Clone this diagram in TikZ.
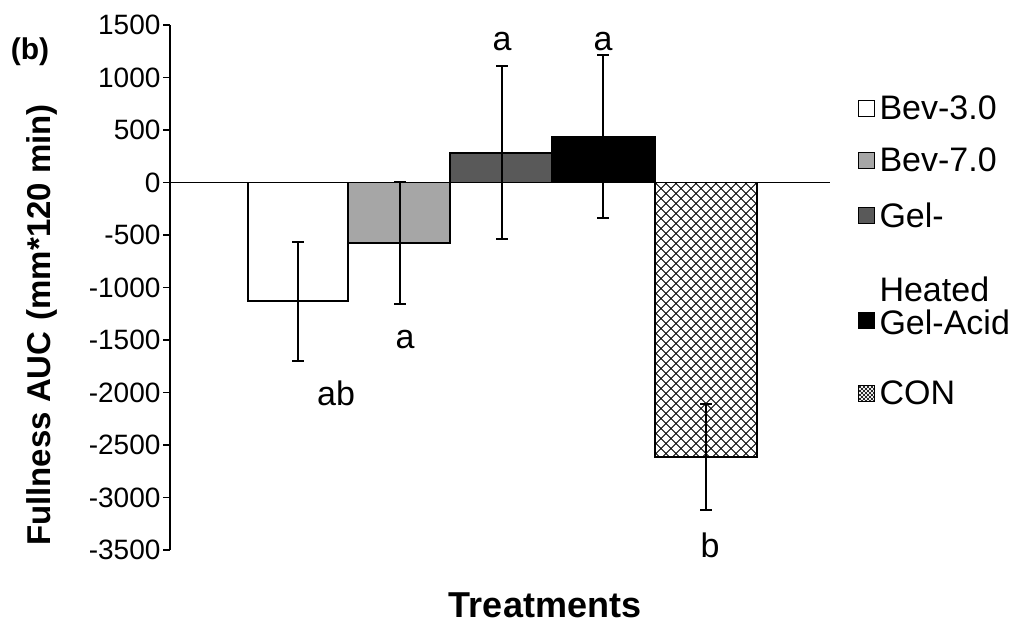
\documentclass[tikz,border=0pt]{standalone}
\usepackage{fontspec}
\setmainfont{Liberation Sans}
\begin{document}
\begin{tikzpicture}[x=1pt,y=-1pt,
  bar/.style={draw=black,line width=1.2pt},
  err/.style={line width=1.2pt},
  tick/.style={font=\fontsize{28}{28}\selectfont,anchor=east},
  lbl/.style={font=\fontsize{34}{34}\selectfont},
  leg/.style={font=\fontsize{34}{34}\selectfont,anchor=west}]
\useasboundingbox (0,0) rectangle (1024,632);
% bars
\path[bar,fill=white] (248,182.5) rectangle (348,301);
\path[bar,fill=black!35] (348,182.5) rectangle (450,243);
\path[bar,fill=black!65] (450,182.5) rectangle (552,153);
\path[bar,fill=black] (552,182.5) rectangle (655,137);
\begin{scope}
\clip (655,182.5) rectangle (757,457);
\foreach \i in {-300,-290,...,300}{
  \draw[line width=0.8pt] (655+\i,182.5) -- ++(300,300);
  \draw[line width=0.8pt] (757+\i,182.5) -- ++(-300,300);}
\end{scope}
\draw[bar] (655,182.5) rectangle (757,457);
% axes
\draw[line width=1.2pt] (170,25) -- (170,550);
\foreach \v in {1500,1000,...,-3500}{
  \draw[line width=1.2pt] (163,{182.5-0.105*\v}) -- (170,{182.5-0.105*\v});
  \node[tick] at (164,{182.5-0.105*\v}) {\v};}
\draw[line width=1.2pt] (170,182.5) -- (830,182.5);
% error bars
\foreach \c/\a/\b in {298/242/361,400/182/304,502/66/239,603/55/218,706/404/510}{
  \draw[err] (\c,\a) -- (\c,\b);
  \draw[err] (\c-6,\a) -- (\c+6,\a);
  \draw[err] (\c-6,\b) -- (\c+6,\b);}
% letters
\node[lbl] (l1) at (336,393) {ab};
\node[lbl] (l2) at (405,340) {a};
\node[lbl] (l3) at (502,42) {a};
\node[lbl] (l4) at (603,42) {a};
\node[lbl] (l5) at (710,545) {b};
% legend
\foreach \y/\f in {108/white,160/black!35,215/black!65,320/black}{
  \draw[line width=1pt,fill=\f] (858,\y-8) rectangle (874,\y+8);}
\begin{scope}
\clip (858,385) rectangle (874,401);
\foreach \i in {-20,-16,...,20}{
  \draw[line width=0.6pt] (858+\i,385) -- ++(20,20);
  \draw[line width=0.6pt] (874+\i,385) -- ++(-20,20);}
\end{scope}
\draw[line width=1pt] (858,385) rectangle (874,401);
\node[leg] (g1) at (876,108) {Bev-3.0};
\node[leg] (g2) at (876,160) {Bev-7.0};
\node[leg] (g3) at (876,215) {Gel-};
\node[leg] (g3b) at (876,289) {Heated};
\node[leg] (g4) at (876,322) {Gel-Acid};
\node[leg] (g5) at (876,393) {CON};
% titles
\node[font=\bfseries\fontsize{30}{30}\selectfont] (b) at (30,52) {(b)};
\node[font=\bfseries\fontsize{33}{33}\selectfont,rotate=90] (yl) at (42,325) {Fullness AUC\,\,(mm*120 min)};
\node[font=\bfseries\fontsize{36}{36}\selectfont] (xl) at (545,605) {Treatments};
\end{tikzpicture}
\end{document}
